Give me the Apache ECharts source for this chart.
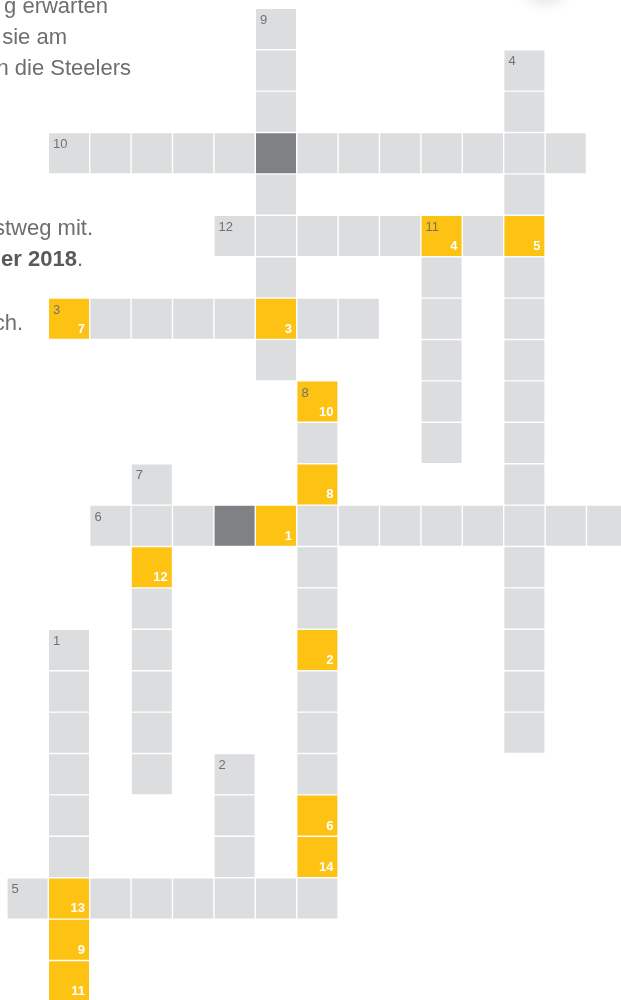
<!DOCTYPE html>
<html>
<head>
<meta charset="utf-8">
<script src="https://cdn.jsdelivr.net/npm/echarts@6/dist/echarts.min.js"></script>
<style>
  html, body { margin: 0; padding: 0; background: #fff; }
  #chart { width: 621px; height: 1000px; }
</style>
</head>
<body>
<div id="chart"></div>
<script>
// Wörter: [Nummer, Zeile, Spalte, Richtung, Länge]
const words = [
  [9, 0, 6, 'down', 9],
  [4, 1, 12, 'down', 17],
  [10, 3, 1, 'across', 13],
  [12, 5, 5, 'across', 8],
  [11, 5, 10, 'down', 6],
  [3, 7, 1, 'across', 8],
  [8, 9, 7, 'down', 13],
  [7, 11, 3, 'down', 8],
  [6, 12, 2, 'across', 13],
  [1, 15, 1, 'down', 9],
  [2, 18, 5, 'down', 4],
  [5, 21, 0, 'across', 8]
]

// Lösungsfelder: [Zeile, Spalte, Buchstabennummer]
const solutionCells = [
  [5, 10, 4], [5, 12, 5], [7, 1, 7], [7, 6, 3], [9, 7, 10], [11, 7, 8],
  [12, 6, 1], [13, 3, 12], [15, 7, 2], [19, 7, 6], [20, 7, 14],
  [21, 1, 13], [22, 1, 9], [23, 1, 11]
]

// gesperrte Felder: [Zeile, Spalte]
const blockedCells = [[3, 6], [12, 5]]

// sichtbarer Ausschnitt des Gitters (in Feldern)
const gridCols = 14.8
const gridRows = 23.9
const pitch = 41.4

// Zellen aus den Wörtern zusammenbauen
const cellMap = {}
words.forEach(([num, row, col, dir, len]) => {
  for (let i = 0; i < len; i++) {
    const r = dir === 'down' ? row + i : row
    const c = dir === 'across' ? col + i : col
    const key = r + '_' + c
    if (!cellMap[key]) cellMap[key] = { row: r, col: c, type: 'normal', clue: '', sol: '' }
    if (i === 0) cellMap[key].clue = String(num)
  }
})
solutionCells.forEach(([r, c, n]) => {
  const cell = cellMap[r + '_' + c]
  if (cell) { cell.type = 'solution'; cell.sol = String(n) }
})
blockedCells.forEach(([r, c]) => {
  const cell = cellMap[r + '_' + c]
  if (cell) cell.type = 'blocked'
})
const cellData = Object.values(cellMap).map(d => [d.col, d.row, d.type, d.clue, d.sol])

const colors = { normal: '#dcdddf', solution: '#fdc212', blocked: '#808184' }
const textFont = '"Liberation Sans", Arial, sans-serif'
const textColor = '#6d6e71'

const chart = echarts.init(document.getElementById('chart'))
chart.setOption({
  animation: false,
  grid: {
    left: 7.6,
    top: 9,
    width: gridCols * pitch,
    height: gridRows * pitch,
    outerBoundsMode: 'none'
  },
  xAxis: { type: 'value', min: 0, max: gridCols, show: false },
  yAxis: { type: 'value', min: 0, max: gridRows, inverse: true, show: false },
  graphic: [
    {
      type: 'circle',
      shape: { cx: 545, cy: -24, r: 24 },
      style: { fill: '#fff', shadowBlur: 14, shadowOffsetY: 3, shadowColor: 'rgba(0,0,0,0.12)' }
    },
    // abgeschnittener Fließtext links
    { type: 'text', x: 108, y: 7, style: { text: 'g erwarten', align: 'right', verticalAlign: 'middle', font: '22px ' + textFont, fill: textColor } },
    { type: 'text', x: 67, y: 38, style: { text: 'sie am', align: 'right', verticalAlign: 'middle', font: '22px ' + textFont, fill: textColor } },
    { type: 'text', x: 131, y: 69, style: { text: 'n die Steelers', align: 'right', verticalAlign: 'middle', font: '22px ' + textFont, fill: textColor } },
    { type: 'text', x: 93, y: 229, style: { text: 'stweg mit.', align: 'right', verticalAlign: 'middle', font: '22px ' + textFont, fill: textColor } },
    {
      type: 'text', x: 83, y: 260,
      style: {
        text: '{b|er 2018}{n|.}', align: 'right', verticalAlign: 'middle',
        rich: {
          b: { font: 'bold 22px ' + textFont, fill: '#58595b' },
          n: { font: '22px ' + textFont, fill: textColor }
        }
      }
    },
    { type: 'text', x: 23, y: 324, style: { text: 'ch.', align: 'right', verticalAlign: 'middle', font: '22px ' + textFont, fill: textColor } }
  ],
  series: [
    {
      type: 'custom',
      clip: false,
      data: cellData,
      renderItem: function (params, api) {
        const p = api.coord([api.value(0), api.value(1)])
        const s = api.size([1, 1])
        const w = s[0] - 1.4
        const h = s[1] - 1.4
        const type = cellData[params.dataIndex][2]
        const clue = cellData[params.dataIndex][3]
        const sol = cellData[params.dataIndex][4]
        const children = [{
          type: 'rect',
          shape: { x: p[0], y: p[1], width: w, height: h },
          style: { fill: colors[type] }
        }]
        if (clue) {
          children.push({
            type: 'text',
            x: p[0] + 4, y: p[1] + 5,
            style: { text: clue, font: '13px ' + textFont, fill: '#707173', align: 'left', verticalAlign: 'top' }
          })
        }
        if (sol) {
          children.push({
            type: 'text',
            x: p[0] + w - 4, y: p[1] + h - 3,
            style: { text: sol, font: 'bold 13px ' + textFont, fill: '#fff', align: 'right', verticalAlign: 'bottom' }
          })
        }
        return { type: 'group', children: children }
      }
    }
  ]
})
</script>
</body>
</html>
